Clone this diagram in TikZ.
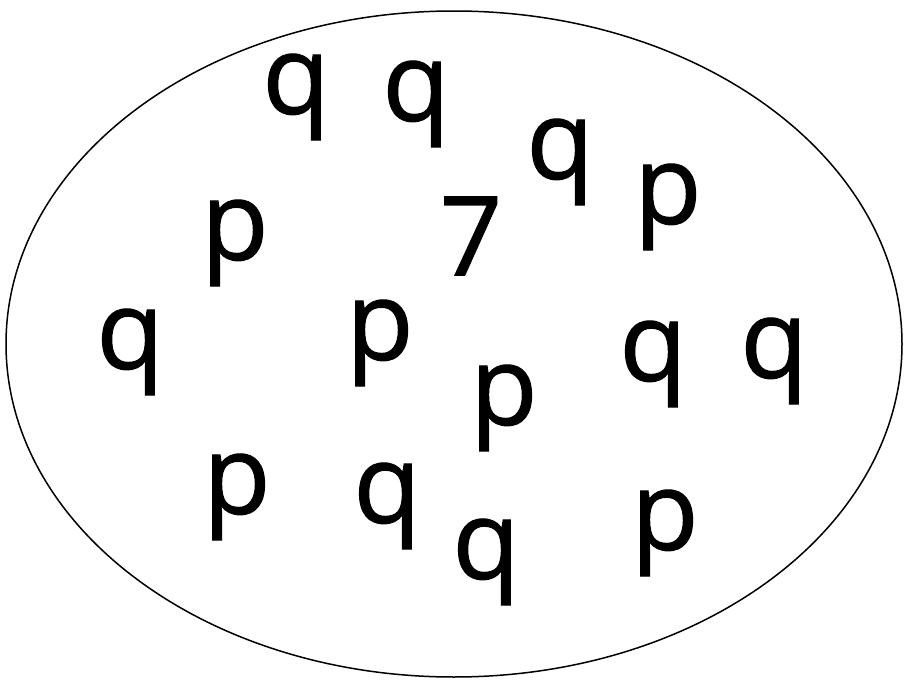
\documentclass[tikz,border=0pt]{standalone}
\usepackage{fontspec}
\setmainfont{Open Sans}
\newfontfamily\symfont{Open Sans}[UprightFeatures={FakeBold=1}]
\begin{document}
\begin{tikzpicture}[x=1pt,y=-1pt,
  sym/.style={inner sep=0pt,font=\fontsize{110}{110}\symfont}]
\useasboundingbox (0,0) rectangle (906,680);
\draw[line width=1.5pt] (454,344) ellipse [x radius=448, y radius=333];
\node[sym] (q1) at (296,97) {q};
\node[sym] (q2) at (416,104) {q};
\node[sym] (q3) at (560,162) {q};
\node[sym] (p1) at (668,207) {p};
\node[sym] (p2) at (235,243) {p};
\node[sym] (s7) at (471,236) {7};
\node[sym] (q4) at (130,352) {q};
\node[sym] (p3) at (380,343) {p};
\node[sym] (p4) at (504,408) {p};
\node[sym] (q5) at (653,364) {q};
\node[sym] (q6) at (774,361) {q};
\node[sym] (p5) at (237,497) {p};
\node[sym] (q7) at (387,506) {q};
\node[sym] (q8) at (486,562) {q};
\node[sym] (p6) at (665,533) {p};
\end{tikzpicture}
\end{document}
